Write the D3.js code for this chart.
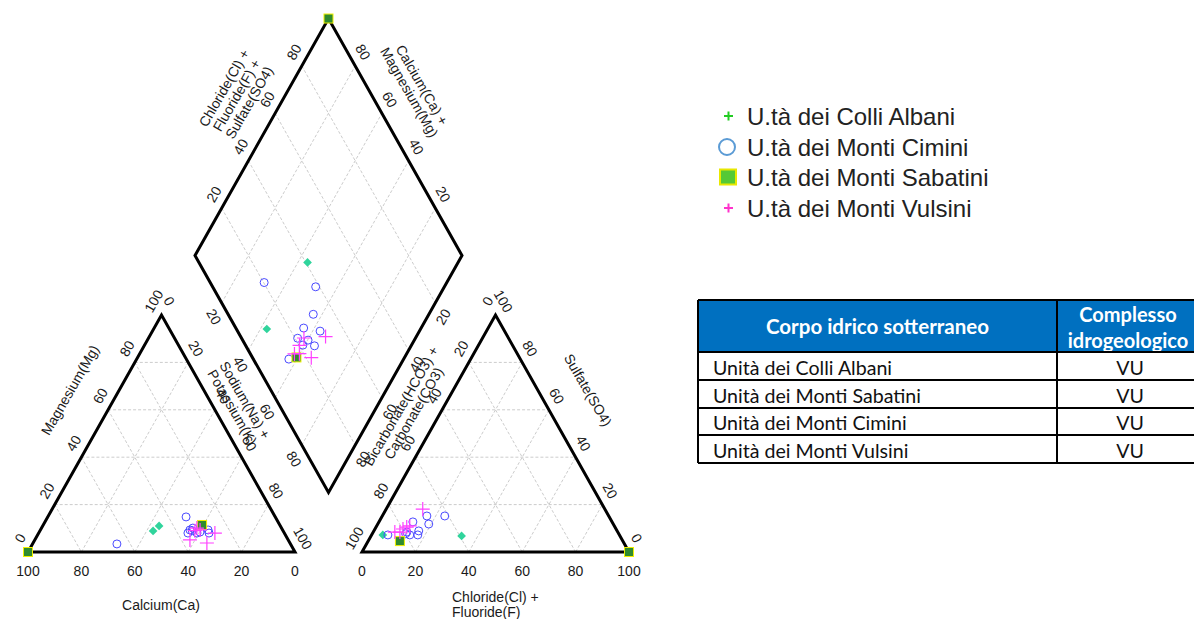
<!DOCTYPE html>
<html>
<head>
<meta charset="utf-8">
<script src="https://cdn.jsdelivr.net/npm/d3@7"></script>
<style>
body { margin: 0; background: #fff; }
svg { display: block; font-family: "Liberation Sans", Arial, sans-serif; }
</style>
</head>
<body>
<div id="content"></div>
<script>
// each sample: [Ca, Mg, Na+K, Cl+F, SO4] in % meq (HCO3+CO3 = 100 - Cl - SO4)
let colliAlbani = [
    [45.4, 11.0, 43.6, 33.9, 6.8],
    [48.7, 8.9, 42.4, 4.2, 7.2]
];
let montiCimini = [
    [65.0, 3.4, 31.6, 12.5, 7.7],
    [33.4, 14.8, 51.8, 23.4, 15.2],
    [33.2, 10.1, 56.7, 16.7, 15.2],
    [27.9, 9.3, 62.8, 19.1, 11.8],
    [34.7, 9.3, 56.0, 12.7, 12.7],
    [31.4, 8.4, 60.2, 17.3, 7.2],
    [36.1, 8.0, 55.9, 12.6, 8.4],
    [32.7, 8.0, 59.3, 14.3, 7.2],
    [28.2, 8.0, 63.8, 16.8, 8.9],
    [34.0, 9.0, 57.0, 6.1, 7.2]
];
let montiSabatini = [
    [100, 0, 0, 100, 0],
    [29.1, 11.4, 59.5, 11.9, 4.6]
];
let montiVulsini = [
    [36.8, 5.1, 58.1, 10.5, 9.7],
    [31.1, 3.8, 65.1, 11.5, 10.5],
    [31.7, 10.1, 58.2, 12.4, 11.0],
    [30.9, 9.3, 59.8, 10.0, 8.4],
    [26.0, 8.0, 66.0, 13.7, 18.1],
    [33.0, 9.0, 58.0, 8.1, 8.4]
];
let legendNames = ['U.tà dei Colli Albani', 'U.tà dei Monti Cimini', 'U.tà dei Monti Sabatini', 'U.tà dei Monti Vulsini'];
let tableHeader = ['Corpo idrico sotterraneo', 'Complesso\nidrogeologico'];
let tableBodies = ['Unità dei Colli Albani', 'Unità dei Monti Sabatini', 'Unità dei Monti Cimini', 'Unità dei Monti Vulsini'];
let tableComplex = ['VU', 'VU', 'VU', 'VU'];
let tickValues = [0, 20, 40, 60, 80, 100];
let gridValues = [20, 40, 60, 80];

window.addEventListener('load', function () {
    let width = 1194;
    let height = 619;
    let side = 267, triH = 237, gap = 67, left = 28, base = 552;

    let svg = d3.select('#content').append('svg').attr('width', width).attr('height', height);

    let xCat = d3.scaleLinear().domain([0, 100]).range([left, left + side]);
    let yTri = d3.scaleLinear().domain([0, 100]).range([base, base - triH]);
    let xAn = d3.scaleLinear().domain([0, 100]).range([left + side + gap, left + 2 * side + gap]);
    let midX = left + side + gap / 2;
    let botY = base - (gap / 2) * triH / (side / 2);
    let xDia = d3.scaleLinear().domain([0, 200]).range([midX - side / 2, midX + side / 2]);
    let yDia = d3.scaleLinear().domain([-100, 100]).range([botY - 2 * triH, botY]);

    // ternary -> pixel
    let cat = (mg, na) => [xCat(na + mg / 2), yTri(mg)];
    let an = (cl, so4) => [xAn(cl + so4 / 2), yTri(so4)];
    let dia = (na, s) => [xDia(na + s), yDia(na - s)];

    let gridG = svg.append('g').attr('fill', 'none').attr('stroke', '#cccccc')
        .attr('stroke-width', 1).attr('stroke-dasharray', '3,2');
    let segs = [];
    gridValues.forEach(v => {
        segs.push([cat(v, 0), cat(v, 100 - v)]);
        segs.push([cat(0, v), cat(100 - v, v)]);
        segs.push([cat(100 - v, 0), cat(0, 100 - v)]);
        segs.push([an(0, v), an(100 - v, v)]);
        segs.push([an(v, 0), an(v, 100 - v)]);
        segs.push([an(100 - v, 0), an(0, 100 - v)]);
        segs.push([dia(0, v), dia(100, v)]);
        segs.push([dia(v, 0), dia(v, 100)]);
    });
    gridG.selectAll('line').data(segs).enter().append('line')
        .attr('x1', d => d[0][0]).attr('y1', d => d[0][1])
        .attr('x2', d => d[1][0]).attr('y2', d => d[1][1]);

    let outlines = [
        [cat(0, 0), cat(100, 0), cat(0, 100)],
        [an(0, 0), an(0, 100), an(100, 0)],
        [dia(0, 0), dia(0, 100), dia(100, 100), dia(100, 0)]
    ];
    svg.append('g').selectAll('path').data(outlines).enter().append('path')
        .attr('d', d => 'M' + d.map(p => p.join(',')).join('L') + 'Z')
        .attr('fill', 'none').attr('stroke', '#000').attr('stroke-width', 3)
        .attr('stroke-linejoin', 'miter');

    // tick labels
    let up = 16;
    let ox = 0.49 * up, oy = 0.87 * up;
    let tickSets = [
        { vals: tickValues, pos: v => cat(0, 100 - v), dx: 0, dy: 19, rot: 0 },
        { vals: tickValues, pos: v => cat(v, 0), dx: -ox, dy: -oy, rot: -60 },
        { vals: tickValues, pos: v => cat(100 - v, v), dx: ox, dy: -oy, rot: 60 },
        { vals: tickValues, pos: v => an(v, 0), dx: 0, dy: 19, rot: 0 },
        { vals: tickValues, pos: v => an(100 - v, v), dx: ox, dy: -oy, rot: 60 },
        { vals: tickValues, pos: v => an(0, 100 - v), dx: -ox, dy: -oy, rot: -60 },
        { vals: gridValues, pos: v => dia(0, v), dx: -ox, dy: -oy, rot: -60 },
        { vals: gridValues, pos: v => dia(100 - v, 100), dx: ox, dy: -oy, rot: 60 },
        { vals: gridValues, pos: v => dia(v, 0), dx: -ox, dy: oy, rot: 60 },
        { vals: gridValues, pos: v => dia(100, 100 - v), dx: ox, dy: oy, rot: -60 }
    ];
    let tickG = svg.append('g').attr('font-size', 14).attr('fill', '#1a1a1a');
    tickSets.forEach(t => {
        tickG.selectAll(null).data(t.vals).enter().append('text')
            .attr('transform', v => {
                let p = t.pos(v);
                return `translate(${p[0] + t.dx},${p[1] + t.dy}) rotate(${t.rot})`;
            })
            .attr('text-anchor', 'middle').attr('dominant-baseline', 'central')
            .text(v => v);
    });

    // axis titles
    let titles = [
        { lines: ['Calcium(Ca)'], x: 161, y: 605, rot: 0 },
        { lines: ['Magnesium(Mg)'], x: 70, y: 390, rot: -60 },
        { lines: ['Sodium(Na) +', 'Potassium(K)'], x: 245, y: 400, rot: 60 },
        { lines: ['Bicarbonate(HCO3) +', 'Carbonate(CO3)'], x: 401, y: 406, rot: -60 },
        { lines: ['Sulfate(SO4)'], x: 588, y: 390, rot: 60 },
        { lines: ['Chloride(Cl) +', 'Fluoride(F) +', 'Sulfate(SO4)'], x: 224, y: 88, rot: -60 },
        { lines: ['Calcium(Ca) +', 'Magnesium(Mg)'], x: 422, y: 85, rot: 60 }
    ];
    let titleG = svg.append('g').attr('font-size', 14).attr('fill', '#1a1a1a');
    titles.forEach(t => {
        let txt = titleG.append('text')
            .attr('transform', `translate(${t.x},${t.y}) rotate(${t.rot})`)
            .attr('text-anchor', 'middle').attr('dominant-baseline', 'central');
        t.lines.forEach((l, i) => txt.append('tspan').attr('x', 0).attr('dy', i === 0 ? 0 : 14.5).text(l));
    });
    titleG.append('text').attr('x', 452).attr('y', 597).attr('dominant-baseline', 'central')
        .selectAll('tspan').data(['Chloride(Cl) +', 'Fluoride(F)']).enter().append('tspan')
        .attr('x', 452).attr('dy', (d, i) => i === 0 ? 0 : 15).text(d => d);

    // samples: cation, anion and diamond position
    function allPoints(data) {
        let out = [];
        data.forEach(d => {
            out.push(cat(d[1], d[2]));
            out.push(an(d[3], d[4]));
            out.push(dia(d[2], d[3] + d[4]));
        });
        return out;
    }
    let marks = svg.append('g');
    marks.selectAll('.albani').data(allPoints(colliAlbani)).enter().append('path')
        .attr('class', 'albani')
        .attr('d', d3.symbol(d3.symbolDiamond2, 48))
        .attr('transform', d => `translate(${d[0]},${d[1]})`)
        .attr('fill', '#30d49c');
    marks.selectAll('.cimini').data(allPoints(montiCimini)).enter().append('circle')
        .attr('class', 'cimini')
        .attr('cx', d => d[0]).attr('cy', d => d[1]).attr('r', 4)
        .attr('fill', 'none').attr('stroke', '#4a4aff').attr('stroke-width', 1);
    marks.selectAll('.sabatini').data(allPoints(montiSabatini)).enter().append('rect')
        .attr('class', 'sabatini')
        .attr('x', d => d[0] - 4.5).attr('y', d => d[1] - 4.5).attr('width', 9).attr('height', 9)
        .attr('fill', '#2f8a2f').attr('stroke', '#f0f000').attr('stroke-width', 1);
    marks.selectAll('.vulsini').data(allPoints(montiVulsini)).enter().append('path')
        .attr('class', 'vulsini')
        .attr('d', d => `M${d[0] - 7},${d[1]}H${d[0] + 7}M${d[0]},${d[1] - 7}V${d[1] + 7}`)
        .attr('stroke', '#ff40ff').attr('stroke-width', 1.2).attr('fill', 'none');

    // legend
    let legend = svg.append('g');
    let ly = [116, 147, 177, 208];
    legend.selectAll('text').data(legendNames).enter().append('text')
        .attr('x', 747).attr('y', (d, i) => ly[i]).attr('dominant-baseline', 'central')
        .attr('font-size', 24).attr('fill', '#222').text(d => d);
    legend.append('path').attr('d', `M724,${ly[0]}h9M728.5,${ly[0] - 4.5}v9`)
        .attr('stroke', '#22cc22').attr('stroke-width', 2);
    legend.append('circle').attr('cx', 727).attr('cy', ly[1]).attr('r', 8)
        .attr('fill', 'none').attr('stroke', '#5b9bd5').attr('stroke-width', 2);
    legend.append('rect').attr('x', 720).attr('y', ly[2] - 7.5).attr('width', 16).attr('height', 15)
        .attr('fill', '#55c936').attr('stroke', '#e8e800').attr('stroke-width', 2);
    legend.append('path').attr('d', `M724,${ly[3]}h9M728.5,${ly[3] - 4.5}v9`)
        .attr('stroke', '#ff33cc').attr('stroke-width', 2);

    // table
    let tx0 = 698, tx1 = 1057, tx2 = 1200;
    let rowY = [300, 352, 380, 408, 435, 463];
    let table = svg.append('g').attr('font-family', 'Lato, "Open Sans", sans-serif');
    table.append('rect').attr('x', tx0).attr('y', rowY[0]).attr('width', tx2 - tx0).attr('height', rowY[1] - rowY[0])
        .attr('fill', '#0070c0');
    table.append('text').attr('x', (tx0 + tx1) / 2).attr('y', (rowY[0] + rowY[1]) / 2)
        .attr('text-anchor', 'middle').attr('dominant-baseline', 'central')
        .attr('font-size', 20.5).attr('font-weight', 'bold').attr('fill', '#fff').text(tableHeader[0]);
    table.append('text').attr('text-anchor', 'middle').attr('font-size', 20).attr('font-weight', 'bold')
        .attr('fill', '#fff')
        .selectAll('tspan').data(tableHeader[1].split('\n')).enter().append('tspan')
        .attr('x', 1128).attr('y', (d, i) => 322 + i * 26).text(d => d);
    table.selectAll('.body').data(tableBodies).enter().append('text')
        .attr('class', 'body').attr('x', 713).attr('y', (d, i) => (rowY[i + 1] + rowY[i + 2]) / 2 + 1)
        .attr('dominant-baseline', 'central').attr('font-size', 19.6).attr('fill', '#111').text(d => d);
    table.selectAll('.vu').data(tableComplex).enter().append('text')
        .attr('class', 'vu').attr('x', 1130).attr('y', (d, i) => (rowY[i + 1] + rowY[i + 2]) / 2 + 1)
        .attr('text-anchor', 'middle').attr('dominant-baseline', 'central').attr('font-size', 19.6).attr('fill', '#111').text(d => d);
    let tlines = svg.append('g').attr('stroke', '#000').attr('stroke-width', 2);
    rowY.forEach(y => tlines.append('line').attr('x1', tx0).attr('x2', tx2).attr('y1', y).attr('y2', y));
    tlines.append('line').attr('x1', tx0).attr('x2', tx0).attr('y1', rowY[0]).attr('y2', rowY[5]);
    tlines.append('line').attr('x1', tx1).attr('x2', tx1).attr('y1', rowY[0]).attr('y2', rowY[5]);
});
</script>
</body>
</html>
